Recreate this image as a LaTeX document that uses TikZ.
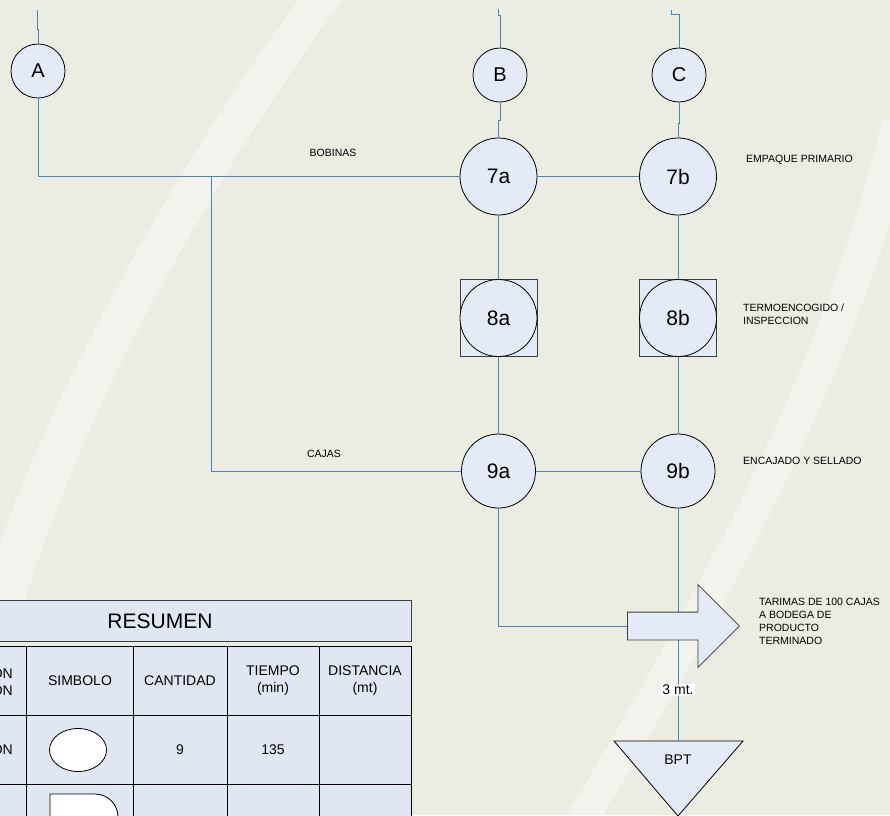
\documentclass[tikz,border=0pt]{standalone}
\usepackage{fontspec}
\setmainfont{Liberation Sans}
\usepackage{xcolor}
\definecolor{slideBg}{RGB}{235,236,226}
\definecolor{flowBlue}{RGB}{79,129,189}
\definecolor{nodeFill}{RGB}{228,235,247}
\definecolor{cellFill}{RGB}{225,231,242}
\definecolor{edgeGray}{RGB}{60,60,60}
\usetikzlibrary{positioning,shapes.geometric,shapes.arrows}
\tikzset{
  refcircle/.style={circle,draw=black,fill=nodeFill,line width=0.8pt,
    minimum size=54pt,inner sep=0pt,font=\fontsize{20}{24}\selectfont},
  opcircle/.style={circle,draw=black,fill=nodeFill,line width=0.8pt,
    minimum size=#1,inner sep=0pt,font=\fontsize{21}{25}\selectfont},
  opcircle/.default=77pt,
  inspbox/.style={rectangle,draw=edgeGray,fill=nodeFill,line width=0.8pt,
    minimum size=77pt,inner sep=0pt},
  flow/.style={draw=flowBlue,line width=0.85pt},
  note/.style={font=\fontsize{10.5}{13.5}\selectfont,align=left,anchor=west,inner sep=0pt},
  cell/.style={font=\fontsize{14}{17}\selectfont,align=center,inner sep=0pt},
  swoosh/.style={fill=white,opacity=0.4}
}

\begin{document}
\begin{tikzpicture}[x=1pt,y=-1pt]
  \useasboundingbox (0,0) rectangle (890,815);
  \fill[slideBg] (0,0) rectangle (890,815);
  % light bands of the slide
  \fill[swoosh] (298,0) .. controls (178,165) and (40,400) .. (-22,610)
    -- (22,610) .. controls (84,400) and (222,165) .. (342,0) -- cycle;
  \fill[swoosh] (882,120) .. controls (832,330) and (742,520) .. (567,815)
    -- (603,815) .. controls (778,520) and (868,330) .. (918,120) -- cycle;

  % process nodes
  \node[refcircle] (refA) at (38,71) {A};
  \node[refcircle] (refB) at (500,75) {B};
  \node[refcircle] (refC) at (679,75) {C};
  \node[opcircle] (op7a) at (498.5,176.5) {7a};
  \node[opcircle] (op7b) at (678,176.5) {7b};
  \node[inspbox] (box8a) at (498.5,318) {};
  \node[opcircle] (op8a) at (498.5,318) {8a};
  \node[inspbox] (box8b) at (678,318) {};
  \node[opcircle] (op8b) at (678,318) {8b};
  \node[opcircle=74pt] (op9a) at (498.5,471) {9a};
  \node[opcircle=74pt] (op9b) at (678,471) {9b};

  \coordinate (inA) at (37,10);
  \coordinate (inB) at (498.5,9);
  \coordinate (inC) at (671,10);
  \coordinate (split) at (211,176.5);

  \draw[flow] (inA) -- ++(0,19) -| (refA.north);
  \draw[flow] (inB) -- ++(0,6) -| (refB.north);
  \draw[flow] (inC) -- ++(0,4) -| (refC.north);
  \draw[flow] (refB.south) -- ++(0,18) -| (op7a.north);
  \draw[flow] (refC.south) -- ++(0,21) -| (op7b.north);
  \draw[flow] (refA.south) |- (op7a.west);
  \draw[flow] (split) |- (op9a.west);
  \draw[flow] (op7a) -- (op7b);
  \draw[flow] (op7a) -- (box8a);
  \draw[flow] (box8a) -- (op9a);
  \draw[flow] (op7b) -- (box8b);
  \draw[flow] (box8b) -- (op9b);
  \draw[flow] (op9a) -- (op9b);

  % storage
  \draw[draw=black,fill=nodeFill,line width=0.8pt]
    (614,741) -- (743,741) -- (678,816) -- cycle;
  \coordinate (bptTop) at (678,741);
  \node[font=\fontsize{14}{17}\selectfont] (bpt) at (678,760) {BPT};
  \draw[flow] (op9b.south) -- node[fill=white,inner sep=1pt,pos=0.78,
    font=\fontsize{14}{17}\selectfont] (dist) {3 mt.} (bptTop);

  % transport
  \node[single arrow,draw=edgeGray,fill=nodeFill,line width=0.8pt,
    inner sep=13.5pt,minimum height=112pt,single arrow head extend=27.5pt,
    anchor=tail] (tarima) at (627,626) {};
  \draw[flow] (op9a.south) |- (tarima.tail);

  % labels
  \node[font=\fontsize{10.5}{13}\selectfont] (lblBobinas) at (333,153) {BOBINAS};
  \node[font=\fontsize{10.5}{13}\selectfont] (lblCajas) at (324,454) {CAJAS};
  \node[note] (lblEmpaque) at (746,160) {EMPAQUE PRIMARIO};
  \node[note] (lblTermo) at (743,314) {TERMOENCOGIDO /\\INSPECCION};
  \node[note] (lblEncajado) at (743,461) {ENCAJADO Y SELLADO};
  \node[note,font=\fontsize{10.5}{13}\selectfont] (lblTarimas) at (759,621.5)
    {TARIMAS DE 100 CAJAS\\A BODEGA DE\\PRODUCTO\\TERMINADO};

  % summary table
  \draw[fill=cellFill,draw=edgeGray,line width=0.8pt] (-100,600) rectangle (411,641);
  \node[font=\fontsize{21}{25}\selectfont] (resumen) at (160,621) {RESUMEN};
  \fill[cellFill] (-100,646) rectangle (411,870);
  \foreach \x in {26.7,133,227,319,411}
    \draw[black,line width=0.8pt] (\x,646) -- (\x,870);
  \foreach \y in {646,715,784}
    \draw[black,line width=0.8pt] (-100,\y) -- (411,\y);
  \node[cell,anchor=east,align=right] (hdrAct) at (13,680.5) {DESCRIPCIÓN\\OPERACION};
  \node[cell] (hdrSym) at (80,681) {SIMBOLO};
  \node[cell] (hdrCant) at (180,681) {CANTIDAD};
  \node[cell] (hdrTime) at (273,680.5) {TIEMPO\\(min)};
  \node[cell] (hdrDist) at (365,680.5) {DISTANCIA\\(mt)};
  \node[cell,anchor=east] (actOp) at (13,750) {OPERACION};
  \node[ellipse,draw=black,fill=white,line width=0.8pt,
    minimum width=57pt,minimum height=43pt] (symOp) at (78,750) {};
  \node[cell] (cantOp) at (180,750) {9};
  \node[cell] (timeOp) at (273,750) {135};
  \draw[black,fill=white,line width=0.8pt]
    (50,840) -- (50,794) -- (95,794) arc[start angle=-90,end angle=90,radius=23] -- cycle;
  \node[cell] (cantDel) at (180,823) {2};
\end{tikzpicture}
\end{document}
